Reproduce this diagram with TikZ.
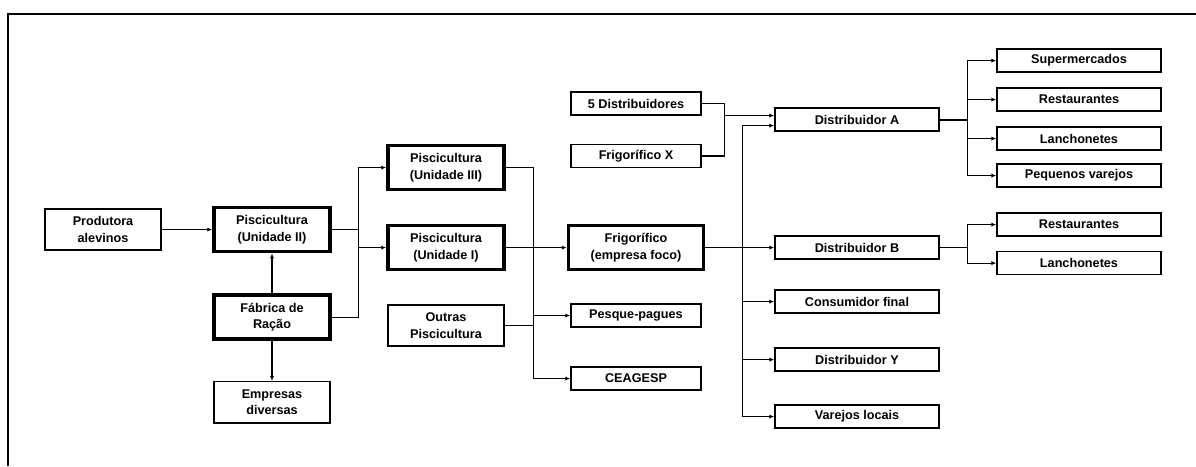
\documentclass[tikz,border=0pt]{standalone}
\usepackage{fontspec}
\setmainfont{Liberation Sans}
\usetikzlibrary{positioning, arrows.meta, calc}

\tikzset{
  box/.style={draw, line width=1.1pt, align=center, inner sep=1pt,
    font=\bfseries\fontsize{9}{12}\selectfont},
  bigbox/.style={box, minimum width=2.9cm, minimum height=1.03cm},
  thickbox/.style={box, line width=2.6pt, minimum width=2.9cm, minimum height=1.1cm},
  smallbox/.style={box, minimum width=3.25cm, minimum height=0.58cm},
  widebox/.style={box, minimum width=4.1cm, minimum height=0.58cm},
  link/.style={line width=0.8pt},
}

\begin{document}
\begin{tikzpicture}[node distance=2cm, on grid, >={Latex[length=3.5pt,width=3pt]}]
  \useasboundingbox (0,0) rectangle (29.9,-11.65);
  \draw[line width=1.4pt] (0.2,-11.65) -- (0.2,-0.35) -- (29.9,-0.35);

  % producao
  \node[bigbox] (prod) at (2.575,-5.74) {Produtora\\alevinos};
  \node[thickbox] (pisc2) [right=4.225cm of prod] {Piscicultura\\(Unidade II)};
  \node[thickbox] (fabrica) [below=2.19cm of pisc2] {Fábrica de\\Ração};
  \node[bigbox] (empresas) [below=2.125cm of fabrica] {Empresas\\diversas};
  \node[thickbox] (pisc1) [below right=0.45cm and 4.35cm of pisc2] {Piscicultura\\(Unidade I)};
  \node[thickbox] (pisc3) [above=2cm of pisc1] {Piscicultura\\(Unidade III)};
  \node[bigbox] (outras) [below=1.95cm of pisc1] {Outras\\Piscicultura};
  \node[thickbox, minimum width=3.375cm] (frigo) [right=4.75cm of pisc1] {Frigorífico\\(empresa foco)};
  \node[smallbox] (dist5) [above=3.6cm of frigo] {5 Distribuidores};
  \node[smallbox] (frigx) [below=1.31cm of dist5] {Frigorífico X};
  \node[smallbox] (pesque) [below=1.7cm of frigo] {Pesque-pagues};
  \node[smallbox] (ceagesp) [below=1.575cm of pesque] {CEAGESP};

  % distribuicao
  \node[widebox] (distB) [right=5.525cm of frigo] {Distribuidor B};
  \node[widebox] (distA) [above=3.2cm of distB] {Distribuidor A};
  \node[widebox] (consumidor) [below=1.35cm of distB] {Consumidor final};
  \node[widebox] (distY) [below=1.45cm of consumidor] {Distribuidor Y};
  \node[widebox] (varejos) [below=1.425cm of distY] {Varejos locais};
  \node[widebox] (restA) [above right=0.5cm and 5.55cm of distA] {Restaurantes};
  \node[widebox] (super) [above=0.975cm of restA] {Supermercados};
  \node[widebox] (lanchA) [below=0.975cm of restA] {Lanchonetes};
  \node[widebox] (pequenos) [below=0.925cm of lanchA] {Pequenos varejos};
  \node[widebox] (restB) [above right=0.575cm and 5.55cm of distB] {Restaurantes};
  \node[widebox] (lanchB) [below=0.9625cm of restB] {Lanchonetes};

  \path[link, ->]
    (prod) edge (pisc2)
    (fabrica) edge (pisc2)
    (fabrica) edge (empresas)
    (pisc1) edge (frigo)
    (frigo) edge (distB);

  \coordinate (j1) at ($(pisc2.east)+(0.675,0)$);
  \draw[link] (pisc2.east) -- (j1);
  \draw[link,->] (j1) |- (pisc3.west);
  \draw[link,->] (j1) |- (pisc1.west);
  \draw[link] (fabrica.east) -| (j1);

  \coordinate (j2) at ($(pisc3.east)+(0.7,0)$);
  \draw[link,->] (pisc3.east) -- (j2) |- (ceagesp.west);
  \draw[link,->] (j2 |- pesque.west) -- (pesque.west);
  \draw[link] (outras.east) -- (outras.east -| j2);

  \coordinate (j3) at ($(dist5.east)+(0.575,0)$);
  \coordinate (a1) at ($(distA.west)+(0,0.1)$);
  \coordinate (a2) at ($(distA.west)+(0,-0.15)$);
  \draw[link] (dist5.east) -- (j3) |- (frigx.east);
  \draw[link,->] (j3 |- a1) -- (a1);

  \coordinate (j4) at ($(frigo.east)+(0.925,0)$);
  \draw[link,->] (j4 |- varejos) |- (a2);
  \foreach \n in {consumidor, distY, varejos}
    \draw[link,->] (j4 |- \n) -- (\n.west);

  \coordinate (j5) at ($(distA.east)+(0.7,0)$);
  \draw[line width=1.3pt] (distA.east) -- (j5);
  \draw[link,->] (j5) |- (super.west);
  \draw[link,->] (j5) |- (pequenos.west);
  \foreach \n in {restA, lanchA}
    \draw[link,->] (j5 |- \n) -- (\n.west);

  \coordinate (j6) at ($(distB.east)+(0.7,0)$);
  \draw[link] (distB.east) -- (j6);
  \draw[link,->] (j6) |- (restB.west);
  \draw[link,->] (j6) |- (lanchB.west);
\end{tikzpicture}
\end{document}
